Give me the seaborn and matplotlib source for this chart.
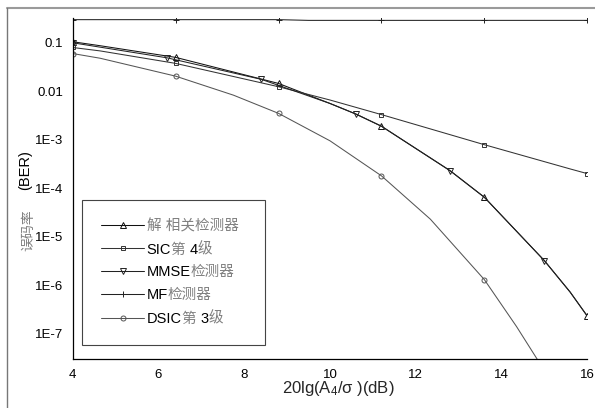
import numpy as np
import pandas as pd
import matplotlib
matplotlib.use("Agg")
import matplotlib.pyplot as plt
from matplotlib.lines import Line2D
from matplotlib.offsetbox import TextArea, HPacker
from matplotlib.ticker import FixedLocator, FixedFormatter, LogLocator, NullFormatter, MultipleLocator
import seaborn as sns

# ---- data: BER versus 20lg(A4/sigma) in dB ----
decor_snr = [4.0, 4.64, 6.4, 8.8, 10.0, 10.6, 11.2, 12.8, 13.6, 15.0, 15.6, 16.0]
decor_ber = [0.105, 0.087, 0.050, 0.0145, 5.6e-3, 3.4e-3, 1.9e-3, 2.3e-4, 6.5e-5, 3.2e-6, 7.2e-7, 2.3e-7]
decor_marks = [4.0, 6.4, 8.8, 11.2, 13.6, 16.0]

sic_snr = [4.0, 4.64, 6.4, 8.8, 10.0, 11.2, 13.6, 15.6, 16.0]
sic_ber = [0.080, 0.068, 0.0376, 0.0124, 6.6e-3, 3.3e-3, 7.9e-4, 2.5e-4, 2.0e-4]
sic_marks = [4.0, 6.4, 8.8, 11.2, 13.6, 16.0]

mmse_snr = [4.0, 6.2, 8.4, 10.0, 10.6, 11.2, 12.8, 13.6, 15.0, 15.6, 16.0]
mmse_ber = [0.100, 0.049, 0.0176, 5.6e-3, 3.4e-3, 1.9e-3, 2.3e-4, 6.5e-5, 3.2e-6, 7.2e-7, 2.3e-7]
mmse_marks = [4.0, 6.2, 8.4, 10.6, 12.8, 15.0]

mf_snr = [4.0, 6.4, 8.8, 9.5, 11.2, 13.6, 16.0]
mf_ber = [0.300, 0.300, 0.300, 0.290, 0.290, 0.290, 0.290]
mf_marks = [4.0, 6.4, 8.8, 11.2, 13.6, 16.0]

dsic_snr = [4.0, 4.64, 6.4, 7.75, 8.8, 10.0, 11.2, 12.34, 13.6, 14.35, 14.85]
dsic_ber = [0.060, 0.048, 0.0205, 8.3e-3, 3.5e-3, 9.5e-4, 1.8e-4, 2.3e-5, 1.3e-6, 1.4e-7, 2.8e-8]
dsic_marks = [4.0, 6.4, 8.8, 11.2, 13.6]

series_labels = ["解 相关检测器", "SIC第 4级", "MMSE检测器", "MF检测器", "DSIC第 3级"]

x_ticks = [4, 6, 8, 10, 12, 14, 16]
x_ticklabels = ["4", "6", "8", "10", "12", "14", "16"]
y_ticks = [1e-1, 1e-2, 1e-3, 1e-4, 1e-5, 1e-6, 1e-7]
y_ticklabels = ["0.1", "0.01", "1E-3", "1E-4", "1E-5", "1E-6", "1E-7"]

CJK_GRAY = "#808080"

# ---- style ----
sns.set_style("white")
plt.rcParams["font.family"] = ["Liberation Sans", "Noto Sans CJK SC", "DejaVu Sans"]
plt.rcParams["mathtext.fontset"] = "custom"
plt.rcParams["mathtext.rm"] = "Liberation Sans"
plt.rcParams["mathtext.it"] = "Liberation Sans:italic"
plt.rcParams["axes.unicode_minus"] = False

fig = plt.figure(figsize=(5.95, 4.08), dpi=100)
ax = fig.add_axes([72.7 / 595, 1 - 359 / 408, 514.6 / 595, 340.7 / 408])

styles = [
    (decor_snr, decor_ber, decor_marks, "^", "#111111", 4.2),
    (sic_snr, sic_ber, sic_marks, "s", "#333333", 3.4),
    (mmse_snr, mmse_ber, mmse_marks, "v", "#222222", 4.2),
    (mf_snr, mf_ber, mf_marks, "+", "#222222", 5.0),
    (dsic_snr, dsic_ber, dsic_marks, "o", "#555555", 3.6),
]

handles = []
for (xs, ys, marks, mk, col, ms), lab in zip(styles, series_labels):
    df = pd.DataFrame({"snr": xs, "ber": ys})
    idx = [xs.index(m) for m in marks]
    sns.lineplot(data=df, x="snr", y="ber", ax=ax, color=col, lw=0.75,
                 marker=mk, markersize=ms, markevery=idx, markerfacecolor="none",
                 markeredgecolor=col, markeredgewidth=0.7, legend=False,
                 estimator=None, sort=False)
    handles.append(Line2D([], [], color=col, lw=0.75, marker=mk, markersize=ms,
                          markerfacecolor="none", markeredgecolor=col,
                          markeredgewidth=0.7))

ax.set_yscale("log")
ax.set_xlim(4, 16)
ax.set_ylim(3e-8, 0.32)

ax.xaxis.set_major_locator(FixedLocator(x_ticks))
ax.xaxis.set_major_formatter(FixedFormatter(x_ticklabels))
ax.xaxis.set_minor_locator(MultipleLocator(1))
ax.yaxis.set_major_locator(FixedLocator(y_ticks))
ax.yaxis.set_major_formatter(FixedFormatter(y_ticklabels))
ax.yaxis.set_minor_locator(LogLocator(base=10, subs=np.arange(2, 10), numticks=20))
ax.yaxis.set_minor_formatter(NullFormatter())

ax.tick_params(axis="both", which="major", direction="out", length=5, width=0.8,
               labelsize=9.5, pad=2, colors="black")
ax.tick_params(axis="both", which="minor", direction="out", length=2.5, width=0.6)
ax.tick_params(axis="x", which="major", length=4, pad=3)

for side in ("top", "right"):
    ax.spines[side].set_visible(False)
for side in ("left", "bottom"):
    ax.spines[side].set_color("black")
    ax.spines[side].set_linewidth(0.9)

ax.set_xlabel("")
ax.set_ylabel("")

LEG_FS = 10.5
leg = ax.legend(handles, series_labels, loc="upper left",
                bbox_to_anchor=(0.0175, 0.047, 0.356, 0.42), mode="expand",
                borderaxespad=0, frameon=True, fancybox=False,
                edgecolor="#444444", framealpha=1, numpoints=1,
                handlelength=3.0, handletextpad=0.15, borderpad=1.3,
                labelspacing=0.61, fontsize=LEG_FS)
leg.get_frame().set_linewidth(0.8)


def is_cjk(ch):
    return ord(ch) >= 0x2E80


def split_runs(s):
    """Split a label into runs of CJK / non-CJK characters."""
    runs = []
    for ch in s:
        kind = is_cjk(ch) if ch != " " else (runs[-1][0] if runs else False)
        if runs and runs[-1][0] == kind:
            runs[-1][1] += ch
        else:
            runs.append([kind, ch])
    return runs


# legend labels: latin letters black, CJK glyphs grey
column = leg._legend_handle_box.get_children()[0]
for row in column.get_children():
    h, t = row.get_children()
    label = t.get_text()
    parts = [TextArea(txt, textprops=dict(color=CJK_GRAY if cjk else "black",
                                          fontsize=LEG_FS))
             for cjk, txt in split_runs(label)]
    packed = HPacker(children=parts, pad=0, sep=0, align="baseline")
    packed.set_figure(fig)
    row._children[1] = packed

# axis titles
fig.text(338 / 595, 1 - 389 / 408, "20lg(A$_4$/σ )(dB)", ha="center", va="center",
         fontsize=12)
fig.text(28.5 / 595, 1 - 251 / 408, "误码率", rotation=90, ha="center", va="bottom",
         fontsize=10, color=CJK_GRAY)
fig.text(25 / 595, 1 - 190 / 408, "(BER)", rotation=90, ha="center", va="bottom",
         fontsize=10.5, color="black")

# page frame edges
fig.add_artist(Line2D([7 / 595, 1], [1 - 7.5 / 408, 1 - 7.5 / 408],
                      transform=fig.transFigure, color="#9a9a9a", lw=1.5))
fig.add_artist(Line2D([7 / 595, 7 / 595], [0, 1 - 7.5 / 408],
                      transform=fig.transFigure, color="#777777", lw=1.0))

fig.savefig("out.png", dpi=100)
